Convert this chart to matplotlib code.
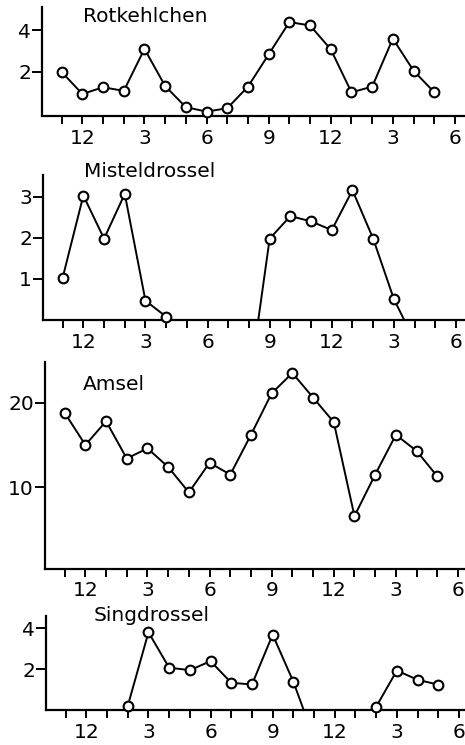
import numpy as np
import matplotlib.pyplot as plt

# hours on a continuous clock (12 = noon, 24 = midnight, 27 = 3 am ...)
tick_hours = [12, 15, 18, 21, 24, 27, 30]
tick_labels = ['12', '3', '6', '9', '12', '3', '6']
minor_hours = list(range(11, 31))

rot_hours = list(range(11, 30))
rot_vals = [2.0, 0.95, 1.27, 1.1, 3.1, 1.33, 0.32, 0.11, 0.27, 1.3,
            2.84, 4.38, 4.22, 3.08, 1.03, 1.3, 3.59, 2.06, 1.03]

# nan breaks the line; zero values are where the line runs into the axis
mistel_hours = [11, 12, 13, 14, 15, 16, 16.2, np.nan, 20.45,
                21, 22, 23, 24, 25, 26, 27, 27.5]
mistel_vals = [1.03, 3.03, 1.98, 3.07, 0.47, 0.08, 0.0, np.nan, 0.0,
               1.98, 2.53, 2.4, 2.19, 3.16, 1.98, 0.51, 0.0]

amsel_hours = list(range(11, 30))
amsel_vals = [18.8, 15.0, 17.8, 13.4, 14.6, 12.4, 9.4, 12.9, 11.5, 16.2,
              21.1, 23.5, 20.6, 17.7, 6.6, 11.5, 16.2, 14.3, 11.3]

sing_hours = [14, 15, 16, 17, 18, 19, 20, 21, 22, 22.5, np.nan,
              26, 27, 28, 29]
sing_vals = [0.2, 3.8, 2.07, 1.95, 2.39, 1.33, 1.25, 3.69, 1.38, 0.0, np.nan,
             0.16, 1.93, 1.48, 1.24]

panels = [
    ("Rotkehlchen", rot_hours, rot_vals, [2, 4], (-0.1, 5.1)),
    ("Misteldrossel", mistel_hours, mistel_vals, [1, 2, 3], (0.0, 3.53)),
    ("Amsel", amsel_hours, amsel_vals, [10, 20], (0.35, 24.8)),
    ("Singdrossel", sing_hours, sing_vals, [2, 4], (0.0, 4.6)),
]

# figure-pixel boxes: left, axis line y, top of y spine; title pos in axes fraction
W, H = 465, 745
boxes = [(42, 116, 7), (43, 320, 175), (45, 569, 362), (46, 710, 616)]
title_pos = [(0.097, 0.913), (0.098, 1.023), (0.091, 0.889), (0.113, 1.01)]

plt.rcParams['font.family'] = ['DejaVu Sans']
fig = plt.figure(figsize=(W / 100, H / 100), dpi=100)

for (name, hrs, vals, yt, ylim), (left, bot, top), (tx, ty) in zip(panels, boxes, title_pos):
    ax = fig.add_axes([left / W, 1 - bot / H, 1 - left / W, (bot - top) / H])
    x = np.array(hrs, dtype=float)
    y = np.array(vals, dtype=float)
    ax.plot(x, y, color='black', lw=1.4, clip_on=False, zorder=2)
    m = y > 0
    ax.plot(x[m], y[m], 'o', ms=7, mfc='white', mec='black', mew=1.5,
            clip_on=False, zorder=3)

    xmin = 10.05
    ax.set_xlim(xmin, xmin + (W - left) / 20.7)
    ax.set_ylim(*ylim)
    ax.set_xticks(tick_hours)
    ax.set_xticklabels(tick_labels)
    ax.set_xticks(minor_hours, minor=True)
    ax.set_yticks(yt)
    ax.set_yticklabels([str(v) for v in yt])

    for s in ['top', 'right']:
        ax.spines[s].set_visible(False)
    for s in ['left', 'bottom']:
        ax.spines[s].set_linewidth(1.6)
    ax.tick_params(axis='x', which='both', direction='out', length=6, width=1.4,
                   labelsize=14.5, pad=3)
    ax.tick_params(axis='y', direction='out', length=7, width=1.4,
                   labelsize=14.5, pad=1)
    ax.text(tx, ty, name, transform=ax.transAxes, fontsize=14.5,
            ha='left', va='center')

fig.savefig('out.png', dpi=100)
